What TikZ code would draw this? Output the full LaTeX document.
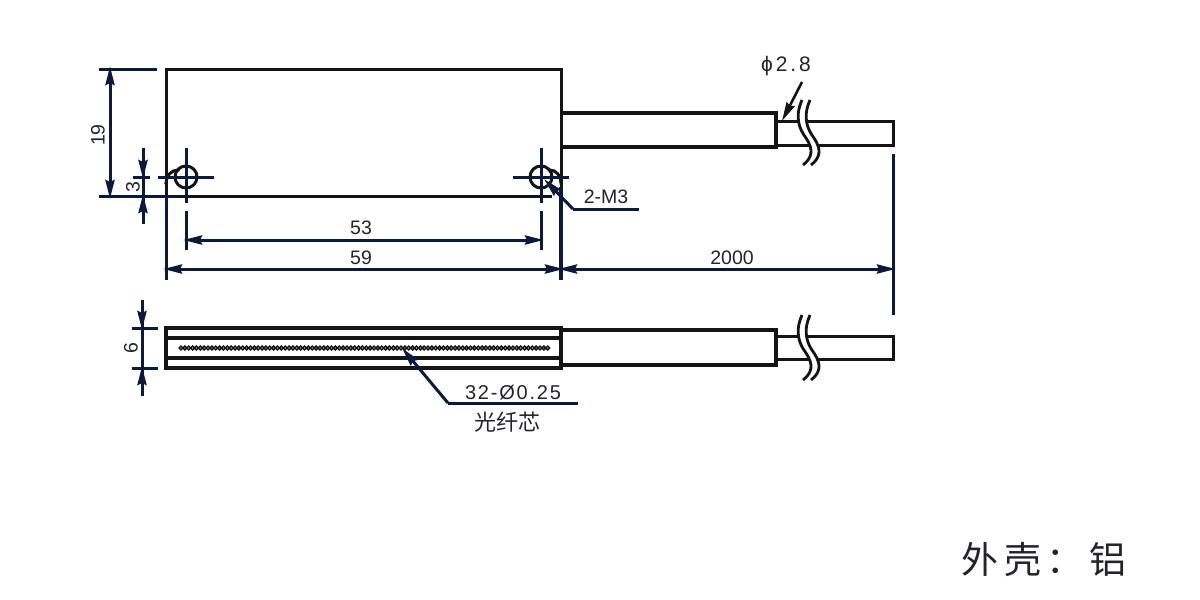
\documentclass[tikz,border=0pt]{standalone}
\usepackage{fontspec}
\setmainfont{Liberation Sans}
\newfontfamily\cjk{Noto Sans CJK SC}
\usetikzlibrary{arrows.meta}
\definecolor{navy}{HTML}{0B1A3A}
\definecolor{ink}{HTML}{141414}
\definecolor{txt}{HTML}{23232B}
\tikzset{
  x=1pt,y=-1pt,
  bodyline/.style={draw=ink,line width=3pt,line cap=rect},
  heavy/.style={draw=ink,line width=3.4pt,line join=miter},
  thinc/.style={draw=ink,line width=3pt,line join=miter},
  dimline/.style={draw=navy,line width=3pt},
  extline/.style={draw=navy,line width=3pt},
  centerl/.style={draw=navy,line width=3pt},
  tip/.style={-{Stealth[length=19pt,width=9pt,inset=2pt]}},
  both/.style={{Stealth[length=19pt,width=9pt,inset=2pt]}-{Stealth[length=19pt,width=9pt,inset=2pt]}},
  lab/.style={inner sep=0pt,text=txt,font=\fontsize{19.5}{20}\selectfont},
  wide/.style={inner sep=0pt,text=txt,font=\fontsize{20}{20}\selectfont\addfontfeature{LetterSpace=9}},
  brk/.style={draw=ink,line width=2.8pt},
}
\newcommand{\breakmark}[3]{% x offset, y top, y bottom
  \fill[white] (#1+802,#2) .. controls (#1+794,#2+18) and (#1+800,#2+30) .. (#1+806,#2+38)
     .. controls (#1+814,#2+50) and (#1+812,#2+58) .. (#1+803,#3)
     -- (#1+811,#3) .. controls (#1+820,#2+58) and (#1+822,#2+50) .. (#1+814,#2+38)
     .. controls (#1+808,#2+30) and (#1+802,#2+18) .. (#1+810,#2) -- cycle;
  \draw[brk] (#1+802,#2) .. controls (#1+794,#2+18) and (#1+800,#2+30) .. (#1+806,#2+38)
     .. controls (#1+814,#2+50) and (#1+812,#2+58) .. (#1+803,#3);
  \draw[brk] (#1+810,#2) .. controls (#1+802,#2+18) and (#1+808,#2+30) .. (#1+814,#2+38)
     .. controls (#1+822,#2+50) and (#1+820,#2+58) .. (#1+811,#3);
}
\begin{document}
\begin{tikzpicture}
\useasboundingbox[fill=white] (0,0) rectangle (1200,600);

% --- top view: body
\draw[bodyline] (166,196) -- (166,69) -- (561,69) -- (561,196);
\draw[bodyline] (178,196) -- (550,196);
\draw[bodyline] (166,183) arc[start angle=180,end angle=270,x radius=12,y radius=13];
\draw[bodyline] (561,183) arc[start angle=0,end angle=-90,x radius=11,y radius=13];

% holes and centre lines
\draw[draw=ink,line width=3pt] (186,177) circle[radius=11];
\draw[draw=ink,line width=3pt] (541,177) circle[radius=11];
\draw[centerl] (158,177) -- (214,177);
\draw[centerl] (186,148) -- (186,203);
\draw[centerl] (186,211) -- (186,250);
\draw[centerl] (513,177) -- (569,177);
\draw[centerl] (541,148) -- (541,203);
\draw[centerl] (541,211) -- (541,250);

% cable, top view
\draw[heavy] (561,113) -- (776,113) -- (776,147) -- (561,147);
\draw[thinc] (776,121) -- (893,121) -- (893,145) -- (776,145);
\breakmark{0}{100}{165}

% dimensions, top view
\draw[extline] (99,69) -- (157,69);
\draw[extline] (99,196) -- (178,196);
\draw[dimline,both] (110,66) -- (110,199);
\node[lab,rotate=90] (d19) at (98,135) {19};
\draw[extline] (133,177) -- (150,177);
\draw[dimline] (143,148) -- (143,224);
\draw[dimline,tip] (143,158) -- (143,179);
\draw[dimline,tip] (143,214) -- (143,194);
\node[lab,rotate=90] (d3) at (133,187) {3};

\draw[extline] (166,196) -- (166,280);
\draw[extline,line width=3.4pt] (561,187) -- (561,280);
\draw[extline] (893,154) -- (893,315);
\draw[dimline,both] (183,240) -- (544,240);
\node[lab] (d53) at (361,228) {53};
\draw[dimline,both] (163,269) -- (564,269);
\node[lab] (d59) at (361,258) {59};
\draw[dimline,both] (558,269) -- (896,269);
\node[lab] (d2000) at (732,258) {2000};

% 2-M3 leader
\coordinate (m3a) at (544,179);
\coordinate (m3b) at (573,209);
\coordinate (m3c) at (639,209);
\draw[dimline,tip] (m3b) -- (m3a);
\draw[dimline] (m3b) -- (m3c);
\node[lab] (m3) at (606,197) {2-M3};

% phi 2.8 leader
\coordinate (pa) at (802,82);
\coordinate (pb) at (782,121);
\draw[draw=ink,line width=2.6pt,tip] (pa) -- (pb);
\node[inner sep=0pt,text=txt,font=\fontsize{21}{21}\selectfont\addfontfeature{LetterSpace=14}] (phi) at (786,66) {ϕ2.8};

% --- side view: body
\draw[heavy] (166,328) rectangle (561,368);
\draw[heavy] (166,338) -- (561,338);
\draw[heavy] (166,358) -- (561,358);
\foreach \i in {0,...,95}
  \draw[draw=ink,line width=1.5pt] ({181+\i*3.86},348) circle[radius=1.9];

% cable, side view
\draw[heavy] (561,330) -- (776,330) -- (776,365) -- (561,365);
\draw[thinc] (776,336) -- (893,336) -- (893,359) -- (776,359);
\breakmark{0}{315}{380}

% 6 dimension
\draw[extline] (132,328) -- (158,328);
\draw[extline] (132,368) -- (158,368);
\draw[dimline] (142,300) -- (142,396);
\draw[dimline,tip] (142,310) -- (142,330);
\draw[dimline,tip] (142,386) -- (142,366);
\node[lab,rotate=90] (d6) at (131,348) {6};

% core leader
\coordinate (ca) at (402,348);
\coordinate (cb) at (448,403);
\coordinate (cc) at (578,403);
\draw[dimline,tip] (cb) -- (ca);
\draw[dimline] (cb) -- (cc);
\node[wide] (core) at (513,393) {32-Ø0.25};
\node[inner sep=0pt,text=txt,font=\cjk\fontsize{22}{22}\selectfont] (fib) at (507,422) {光纤芯};

% shell note
\node[inner sep=0pt,text=txt,font=\cjk\fontsize{37}{37}\selectfont] (shell) at (1044,560) {外\hspace{6pt}壳\hspace{6pt}：\hspace{6pt}铝};
\end{tikzpicture}
\end{document}
